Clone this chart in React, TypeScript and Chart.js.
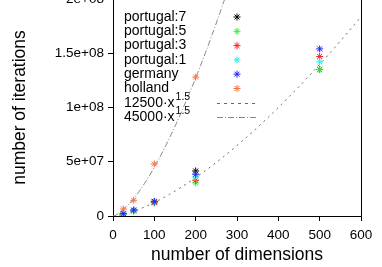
import React, { useEffect, useRef } from "react";
import { Chart, registerables } from "chart.js";

Chart.register(...registerables);

const dims = [25, 50, 100, 200, 500];
const portugal7 = [2.0e6, 5.0e6, 1.3e7, 4.15e7, 1.35e8];
const portugal5 = [1.8e6, 4.5e6, 1.2e7, 3.05e7, 1.35e8];
const portugal3 = [2.2e6, 5.2e6, 1.25e7, 3.3e7, 1.47e8];
const portugal1 = [1.9e6, 4.8e6, 1.3e7, 3.6e7, 1.42e8];
const germany = [2.4e6, 5.5e6, 1.35e7, 3.85e7, 1.54e8];
const hollandDims = [25, 50, 100, 200];
const holland = [6.5e6, 1.45e7, 4.8e7, 1.28e8];

const fitCoefs = [12500, 45000];
const fitExponent = 1.5;
const fitLabels = ["12500·x", "45000·x"];

const seriesNames = ["portugal:7", "portugal:5", "portugal:3", "portugal:1", "germany", "holland"];
const seriesColors = ["#000000", "#33ee33", "#ff2020", "#22f0f0", "#2020ff", "#ff7040"];

const yTickLabels = ["0", "5e+07", "1e+08", "1.5e+08", "2e+08"];
const xTitle = "number of dimensions";
const yTitle = "number of iterations";

const FONT = "'Liberation Sans', Arial, Helvetica, sans-serif";

function pts(xs: number[], ys: number[]) {
  return xs.map((x, i) => ({ x, y: ys[i] }));
}

function curve(coef: number) {
  const out: { x: number; y: number }[] = [];
  for (let x = 0; x <= 600; x += 4) out.push({ x, y: coef * Math.pow(x, fitExponent) });
  return out;
}

const legendPlugin = {
  id: "gpLegend",
  afterDatasetsDraw(chart: any) {
    const ctx = chart.ctx as CanvasRenderingContext2D;
    const a = chart.chartArea;
    ctx.save();
    ctx.strokeStyle = "#000";
    ctx.lineWidth = 1;
    ctx.beginPath();
    ctx.moveTo(a.left, a.top + 0.5);
    ctx.lineTo(a.right + 0.5, a.top + 0.5);
    ctx.lineTo(a.right + 0.5, a.bottom);
    ctx.stroke();

    const tx = 124;
    const sx = 237;
    const y0 = 37;
    const dy = 14.3;
    ctx.font = `14px ${FONT}`;
    ctx.textBaseline = "middle";
    ctx.textAlign = "left";
    seriesNames.forEach((name, i) => {
      const y = y0 + i * dy;
      ctx.fillStyle = "#000";
      ctx.fillText(name, tx, y);
      ctx.strokeStyle = seriesColors[i];
      ctx.lineWidth = 1;
      const r = 3.5;
      ctx.beginPath();
      ctx.moveTo(sx - r, y); ctx.lineTo(sx + r, y);
      ctx.moveTo(sx, y - r); ctx.lineTo(sx, y + r);
      const d = r * 0.707;
      ctx.moveTo(sx - d, y - d); ctx.lineTo(sx + d, y + d);
      ctx.moveTo(sx - d, y + d); ctx.lineTo(sx + d, y - d);
      ctx.stroke();
    });
    fitLabels.forEach((lab, i) => {
      const y = y0 + (6 + i) * dy;
      ctx.font = `14px ${FONT}`;
      ctx.fillStyle = "#000";
      ctx.fillText(lab, tx, y);
      const w = ctx.measureText(lab).width;
      ctx.font = `10.5px ${FONT}`;
      ctx.fillText("1.5", tx + w + 1, y - 6);
      ctx.strokeStyle = i === 0 ? "#666" : "#888";
      ctx.setLineDash(i === 0 ? [3, 4] : [6, 2, 1, 2]);
      ctx.beginPath();
      ctx.moveTo(217, Math.round(y) + 0.5);
      ctx.lineTo(256, Math.round(y) + 0.5);
      ctx.stroke();
      ctx.setLineDash([]);
    });
    ctx.restore();
  },
};

export default function App() {
  const ref = useRef<HTMLCanvasElement>(null);
  useEffect(() => {
    if (!ref.current) return;
    const scatterDs = (xs: number[], ys: number[], i: number) => ({
      type: "scatter" as const,
      label: seriesNames[i],
      data: pts(xs, ys),
      pointStyle: "star",
      pointRadius: 3.5,
      borderWidth: 1,
      borderColor: seriesColors[i],
      backgroundColor: seriesColors[i],
      showLine: false,
      order: 10 - i,
    });
    const chart = new Chart(ref.current, {
      type: "scatter",
      data: {
        datasets: [
          {
            type: "line",
            label: fitLabels[0],
            data: curve(fitCoefs[0]),
            borderColor: "#666",
            borderWidth: 1,
            borderDash: [2, 4],
            pointRadius: 0,
            fill: false,
            tension: 0,
            order: 21,
          } as any,
          {
            type: "line",
            label: fitLabels[1],
            data: curve(fitCoefs[1]),
            borderColor: "#888",
            borderWidth: 1,
            borderDash: [6, 2, 1, 2],
            pointRadius: 0,
            fill: false,
            tension: 0,
            order: 20,
          } as any,
          scatterDs(dims, portugal7, 0),
          scatterDs(dims, portugal5, 1),
          scatterDs(dims, portugal3, 2),
          scatterDs(dims, portugal1, 3),
          scatterDs(dims, germany, 4),
          scatterDs(hollandDims, holland, 5),
        ],
      },
      options: {
        responsive: false,
        animation: false,
        layout: { padding: { left: 0, right: 21, top: 19, bottom: 0 } },
        plugins: { legend: { display: false }, tooltip: { enabled: false } },
        scales: {
          x: {
            type: "linear",
            min: 0,
            max: 600,
            afterFit: (s: any) => { s.height = 51; },
            ticks: { stepSize: 100, color: "#000", padding: 6, font: { family: FONT, size: 13.5 }, maxRotation: 0, autoSkip: false },
            grid: { drawOnChartArea: false, drawTicks: true, tickLength: 5, color: "#000" },
            border: { display: true, color: "#000", width: 1 },
            title: { display: true, text: xTitle, color: "#000", font: { family: FONT, size: 17.5 }, padding: { top: 0, bottom: 1 } },
          },
          y: {
            type: "linear",
            min: 0,
            max: 2e8,
            afterFit: (s: any) => { s.width = 113; },
            ticks: {
              stepSize: 5e7,
              color: "#000",
              padding: 4,
              font: { family: FONT, size: 13.5 },
              callback: (_v: any, i: number) => yTickLabels[i],
            },
            grid: { drawOnChartArea: false, drawTicks: true, tickLength: 5, color: "#000" },
            border: { display: true, color: "#000", width: 1 },
            title: { display: true, text: yTitle, color: "#000", font: { family: FONT, size: 17.5 }, padding: { top: 10, bottom: 0 } },
          },
        },
      } as any,
      plugins: [legendPlugin],
    });
    return () => chart.destroy();
  }, []);
  return (
    <canvas
      ref={ref}
      width={382}
      height={287}
      style={{ position: "fixed", left: 0, top: -20, width: 382, height: 287 }}
    />
  );
}
